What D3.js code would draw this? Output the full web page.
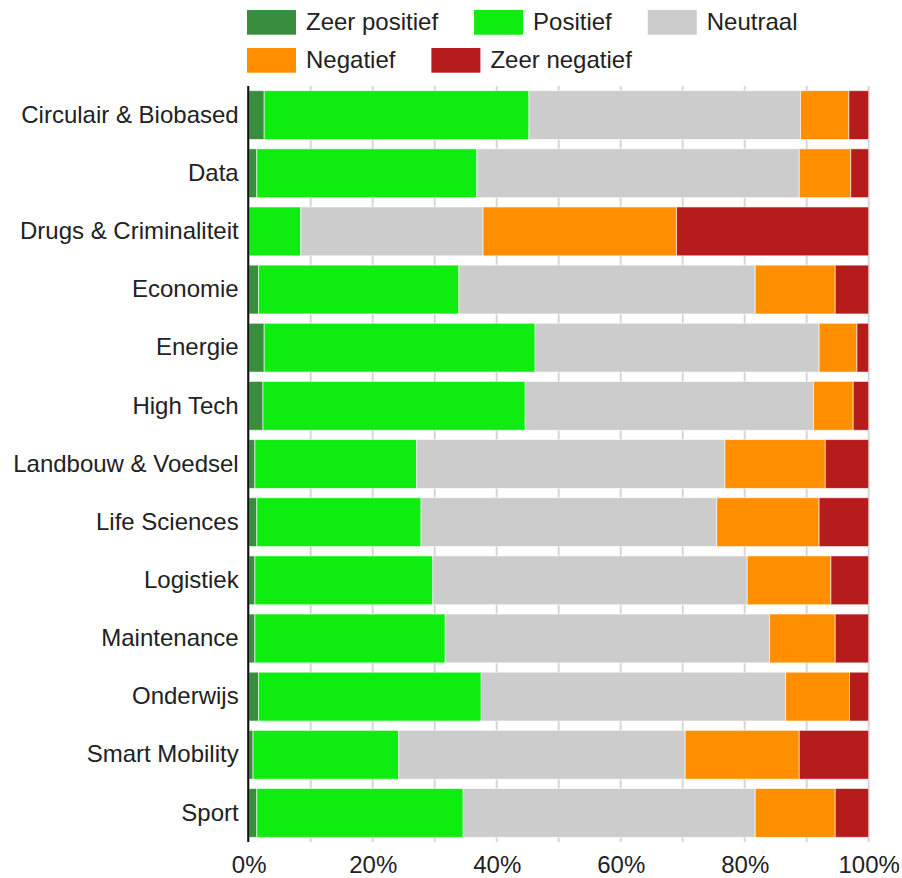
<!DOCTYPE html>
<html>
<head>
<meta charset="utf-8">
<script src="https://cdn.jsdelivr.net/npm/d3@7"></script>
<style>
  html, body { margin: 0; padding: 0; background: #fff; }
  svg { display: block; }
  text { font-family: Arial, "Liberation Sans", sans-serif; fill: #222; }
</style>
</head>
<body>
<svg id="chart" width="902" height="878"></svg>
<script>
const categories = [
  "Circulair & Biobased", "Data", "Drugs & Criminaliteit", "Economie", "Energie",
  "High Tech", "Landbouw & Voedsel", "Life Sciences", "Logistiek", "Maintenance",
  "Onderwijs", "Smart Mobility", "Sport"
];
const seriesNames = ["Zeer positief", "Positief", "Neutraal", "Negatief", "Zeer negatief"];
const seriesColors = ["#388e3c", "#0fec0f", "#cccccc", "#ff8f00", "#b71c1c"];

const zeerPositief = [2.5, 1.3, 0.0, 1.6, 2.5, 2.3, 1.0, 1.3, 1.0, 1.0, 1.6, 0.7, 1.3];
const positief     = [42.7, 35.5, 8.4, 32.3, 43.7, 42.3, 26.1, 26.5, 28.7, 30.7, 35.9, 23.5, 33.3];
const neutraal     = [43.8, 52.0, 29.4, 47.8, 45.8, 46.5, 49.7, 47.7, 50.7, 52.3, 49.1, 46.2, 47.1];
const negatief     = [7.8, 8.3, 31.2, 12.9, 6.1, 6.4, 16.2, 16.5, 13.5, 10.6, 10.3, 18.4, 12.9];
const zeerNegatief = [3.2, 2.9, 31.0, 5.4, 1.9, 2.5, 7.0, 8.0, 6.1, 5.4, 3.1, 11.2, 5.4];

const tickValues = [0, 0.2, 0.4, 0.6, 0.8, 1.0];
const gridValues = [0, 0.1, 0.2, 0.3, 0.4, 0.5, 0.6, 0.7, 0.8, 0.9, 1.0];

const seriesValues = [zeerPositief, positief, neutraal, negatief, zeerNegatief];
const rows = categories.map((c, i) => {
  const r = { cat: c };
  const total = d3.sum(seriesValues, s => s[i]);
  seriesNames.forEach((n, k) => r[n] = seriesValues[k][i] / total);
  return r;
});

const svg = d3.select("#chart");
const plotLeft = 248.7, plotRight = 868.7, plotTop = 86, plotBottom = 842;
const fontSize = 24;

const x = d3.scaleLinear().domain([0, 1]).range([plotLeft, plotRight]);
const y = d3.scaleBand().domain(categories).range([plotTop, plotBottom]).paddingInner(0.16).paddingOuter(0.08);
const color = d3.scaleOrdinal().domain(seriesNames).range(seriesColors);

// gridlines
svg.append("g").selectAll("line").data(gridValues).join("line")
  .attr("x1", d => x(d)).attr("x2", d => x(d))
  .attr("y1", plotTop).attr("y2", plotBottom)
  .attr("stroke", "#d6d6d6").attr("stroke-width", 2);

// stacked bars
const stack = d3.stack().keys(seriesNames);
const layers = stack(rows);
svg.append("g").selectAll("g").data(layers).join("g")
  .attr("fill", d => color(d.key))
  .selectAll("rect").data(d => d).join("rect")
  .attr("x", d => x(d[0]))
  .attr("width", d => Math.max(0, x(d[1]) - x(d[0])))
  .attr("y", d => y(d.data.cat))
  .attr("height", y.bandwidth())
  .attr("stroke", "#ffffff").attr("stroke-opacity", 0.6).attr("stroke-width", 1);

// baseline axis line
svg.append("line")
  .attr("x1", x(0) - 0.5).attr("x2", x(0) - 0.5)
  .attr("y1", plotTop).attr("y2", plotBottom)
  .attr("stroke", "#111").attr("stroke-width", 2);

// category labels
const yAxis = d3.axisLeft(y).tickSize(0).tickPadding(10);
const yg = svg.append("g").attr("transform", `translate(${plotLeft},0)`).call(yAxis);
yg.select(".domain").remove();
yg.selectAll("text").attr("font-size", fontSize).style("font-family", "Arial, 'Liberation Sans', sans-serif").attr("fill", "#222");

// x tick labels
const xAxis = d3.axisBottom(x).tickValues(tickValues).tickSize(0).tickFormat(d3.format(".0%"));
const xg = svg.append("g").attr("transform", `translate(0,${plotBottom})`).call(xAxis);
xg.select(".domain").remove();
xg.selectAll("text").attr("font-size", fontSize).attr("dy", null).attr("y", 31)
  .style("font-family", "Arial, 'Liberation Sans', sans-serif").attr("fill", "#222");

// legend
const legendRows = [[0, 1, 2], [3, 4]];
const legend = svg.append("g");
legendRows.forEach((idxs, ri) => {
  let cx = 247;
  const yTop = 10 + ri * 38;
  idxs.forEach(k => {
    const g = legend.append("g").attr("transform", `translate(${cx},${yTop})`);
    g.append("rect").attr("width", 49).attr("height", 24.7).attr("fill", seriesColors[k]);
    const t = g.append("text").attr("x", 59).attr("y", 19.5).attr("font-size", fontSize).text(seriesNames[k]);
    cx += 59 + t.node().getComputedTextLength() + 36;
  });
});
</script>
</body>
</html>
